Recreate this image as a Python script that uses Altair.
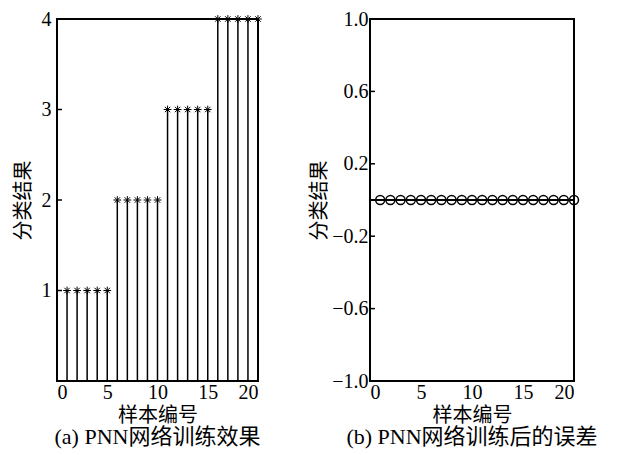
import altair as alt
import pandas as pd

# ---- data ----
samples = [1, 2, 3, 4, 5, 6, 7, 8, 9, 10, 11, 12, 13, 14, 15, 16, 17, 18, 19, 20]
class_result = [1, 1, 1, 1, 1, 2, 2, 2, 2, 2, 3, 3, 3, 3, 3, 4, 4, 4, 4, 4]
train_error = [0, 0, 0, 0, 0, 0, 0, 0, 0, 0, 0, 0, 0, 0, 0, 0, 0, 0, 0, 0]
x_ticks = [0, 5, 10, 15, 20]
y_ticks_a = [1, 2, 3, 4]
y_ticks_b = [-1.0, -0.6, -0.2, 0.2, 0.6, 1.0]

FONT = "Liberation Serif, Times New Roman, Noto Sans CJK SC, serif"
ASTERISK = "M-1,0L1,0M0,-1L0,1M-0.7,-0.7L0.7,0.7M-0.7,0.7L0.7,-0.7"

df_a = pd.DataFrame({"sample": samples, "value": class_result})
df_b = pd.DataFrame({"sample": samples, "value": train_error})
tick_a = pd.DataFrame({"v": y_ticks_a[:-1]})
tick_b = pd.DataFrame({"v": y_ticks_b[1:-1]})

W_A, W_B, H = 201, 204, 362
LBL = 20


def x_enc():
    return alt.X(
        "sample:Q",
        scale=alt.Scale(domain=[0, 20], nice=False, zero=False),
        axis=alt.Axis(values=x_ticks, title="样本编号", format="d",
                      labelFont=FONT, labelFontSize=LBL, titleFont=FONT,
                      labelPadding=1, titlePadding=3),
    )


# ---- panel (a) ----
xa = x_enc()
ya = alt.Y(
    "value:Q",
    scale=alt.Scale(domain=[0, 4], nice=False),
    axis=alt.Axis(values=y_ticks_a, title="分类结果", format="d",
                  labelFont=FONT, labelFontSize=LBL, titleFont=FONT,
                  labelPadding=6, titlePadding=8),
)
stems_a = alt.Chart(df_a).mark_rule(color="black", strokeWidth=1.5).encode(
    x=xa, y=ya, y2=alt.datum(0)
)
marks_a = alt.Chart(df_a).mark_point(
    shape=ASTERISK, size=60, stroke="black", strokeWidth=1, filled=False, opacity=1
).encode(x=xa, y=ya)
ticks_a = alt.Chart(tick_a).mark_rule(color="black", strokeWidth=1.5).encode(
    y=alt.Y("v:Q", scale=alt.Scale(domain=[0, 4], nice=False)),
    x=alt.value(0), x2=alt.value(5),
)
panel_a = alt.layer(stems_a, marks_a, ticks_a).properties(
    width=W_A, height=H,
    title=alt.TitleParams("(a) PNN网络训练效果", orient="bottom", font=FONT,
                          fontSize=22, fontWeight="normal", color="black", offset=2),
)

# ---- panel (b) ----
xb = x_enc()
yb = alt.Y(
    "value:Q",
    scale=alt.Scale(domain=[-1, 1], nice=False, zero=False),
    axis=alt.Axis(values=y_ticks_b, title="分类结果", format=".1f",
                  labelFont=FONT, labelFontSize=LBL, titleFont=FONT,
                  labelPadding=2, titlePadding=2),
)
base_b = alt.Chart(df_b).mark_rule(color="black", strokeWidth=1.5).encode(
    x=alt.datum(0), x2=alt.datum(20), y=alt.datum(0)
)
marks_b = alt.Chart(df_b).mark_point(
    shape="circle", size=80, stroke="black", strokeWidth=1.5, filled=False, opacity=1
).encode(x=xb, y=yb)
ticks_b = alt.Chart(tick_b).mark_rule(color="black", strokeWidth=1.5).encode(
    y=alt.Y("v:Q", scale=alt.Scale(domain=[-1, 1], nice=False)),
    x=alt.value(0), x2=alt.value(5),
)
panel_b = alt.layer(base_b, marks_b, ticks_b).properties(
    width=W_B, height=H,
    title=alt.TitleParams("(b) PNN网络训练后的误差", orient="bottom", font=FONT,
                          fontSize=22, fontWeight="normal", color="black", offset=2),
)

chart = alt.hconcat(panel_a, panel_b, spacing=43).properties(
    padding={"left": 4, "top": 0, "right": 0, "bottom": 0}
).configure_view(
    stroke="black", strokeWidth=2
).configure_axis(
    labelFont=FONT, labelFontSize=LBL, labelColor="black",
    titleFont=FONT, titleFontSize=20, titleColor="black", titleFontWeight="normal",
    ticks=False, domain=False, grid=False,
)

chart.save("out.html", embed_options={"renderer": "svg", "actions": False})
